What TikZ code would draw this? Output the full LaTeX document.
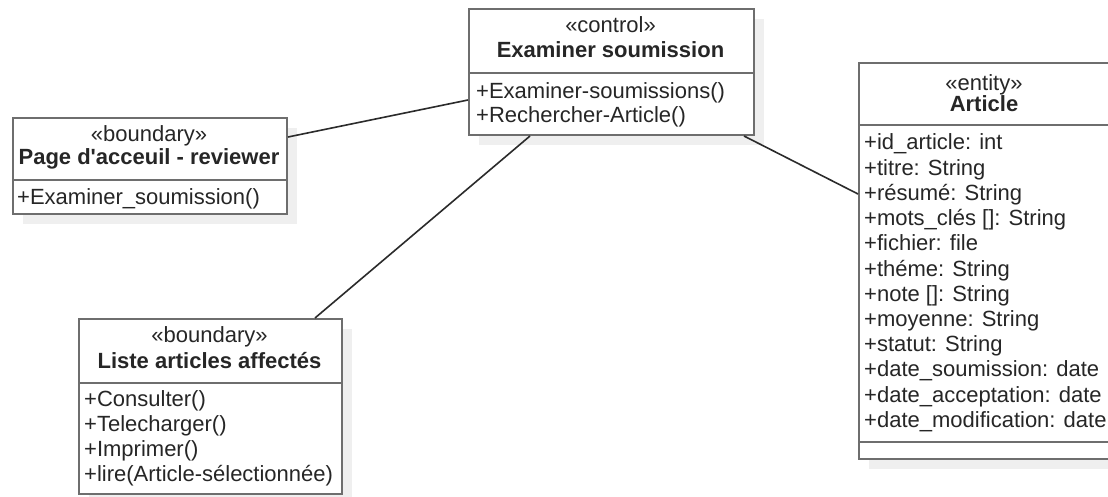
\documentclass[tikz,border=0pt]{standalone}
\usepackage{fontspec}
\setmainfont{Liberation Sans}
\usetikzlibrary{calc,shadows}
\definecolor{edge}{HTML}{6E6E6E}
\definecolor{ink}{HTML}{262626}
\definecolor{wirecol}{HTML}{2B2B2B}
\definecolor{shade}{HTML}{EFEFEF}

\begin{document}
\begin{tikzpicture}[x=1pt,y=-1pt,
  classbox/.style={draw=edge, line width=2pt, fill=white, rectangle, inner sep=0pt,
    anchor=north west,
    drop shadow={shadow xshift=10pt, shadow yshift=-10pt, fill=shade, opacity=1}},
  txt/.style={inner sep=0pt, anchor=base west, text=ink, font=\fontsize{22}{25}\selectfont},
  head/.style={inner sep=0pt, anchor=base, text=ink, font=\fontsize{22}{25}\selectfont},
  cname/.style={inner sep=0pt, anchor=base, text=ink, font=\fontsize{22}{25}\selectfont\bfseries},
  divider/.style={draw=edge, line width=2pt},
  wire/.style={draw=wirecol, line width=1.6pt}
]
\clip (0,0) rectangle (1108,497);
\fill[white] (0,0) rectangle (1108,497);

% class frames
\node[classbox, minimum width=285pt, minimum height=126pt] (ctl) at (468,8) {};
\node[classbox, minimum width=274pt, minimum height=96pt]  (pg)  at (12,117) {};
\node[classbox, minimum width=263pt, minimum height=175pt] (ls)  at (78,318) {};
\node[classbox, minimum width=252pt, minimum height=396pt] (ar)  at (858,62) {};

% compartment separators
\draw[divider] ([yshift=-65pt]ctl.north west) -- ([yshift=-65pt]ctl.north east);
\draw[divider] ([yshift=-63pt]pg.north west) -- ([yshift=-63pt]pg.north east);
\draw[divider] ([yshift=-65pt]ls.north west) -- ([yshift=-65pt]ls.north east);
\draw[divider] ([yshift=-63pt]ar.north west) -- ([yshift=-63pt]ar.north east);
\draw[divider] ([yshift=-380pt]ar.north west) -- ([yshift=-380pt]ar.north east);

% Examiner soumission
\node[head]  (ctlst) at (610.5,33) {«control»};
\node[cname] (ctlnm) at (610.5,58) {Examiner soumission};
\node[txt] (ctlm1) at (476,99)  {+Examiner-soumissions()};
\node[txt] (ctlm2) at (476,123) {+Rechercher-Article()};

% Page d'acceuil - reviewer
\node[head]  (pgst) at (149,142) {«boundary»};
\node[cname] (pgnm) at (149,165) {Page d\textquotesingle acceuil - reviewer};
\node[txt] (pgm1) at (17,205) {+Examiner\_soumission()};

% Liste articles affectes
\node[head]  (lsst) at (209.5,342) {«boundary»};
\node[cname] (lsnm) at (209.5,368) {Liste articles affectés};
\node[txt] (lsm1) at (84,406) {+Consulter()};
\node[txt] (lsm2) at (84,431) {+Telecharger()};
\node[txt] (lsm3) at (84,456) {+Imprimer()};
\node[txt] (lsm4) at (84,481) {+lire(Article-sélectionnée)};

% Article
\node[head]  (arst) at (984,91)  {«entity»};
\node[cname] (arnm) at (984,112) {Article};
\foreach \t [count=\i from 0] in {
  +id\_article: int,
  +titre: String,
  +résumé: String,
  +mots\_clés []: String,
  +fichier: file,
  +théme: String,
  +note []: String,
  +moyenne: String,
  +statut: String,
  +date\_soumission: date,
  +date\_acceptation: date,
  +date\_modification: date}
  \node[txt] (ara\i) at (864,150+25.2*\i) {\t};

% associations
\draw[wire] ([yshift=-20pt]pg.north east) -- ([yshift=-92pt]ctl.north west);
\draw[wire] ([xshift=62pt]ctl.south west) -- ([xshift=237pt]ls.north west);
\draw[wire] ([xshift=-11pt]ctl.south east) -- ([yshift=-132pt]ar.north west);
\end{tikzpicture}
\end{document}
